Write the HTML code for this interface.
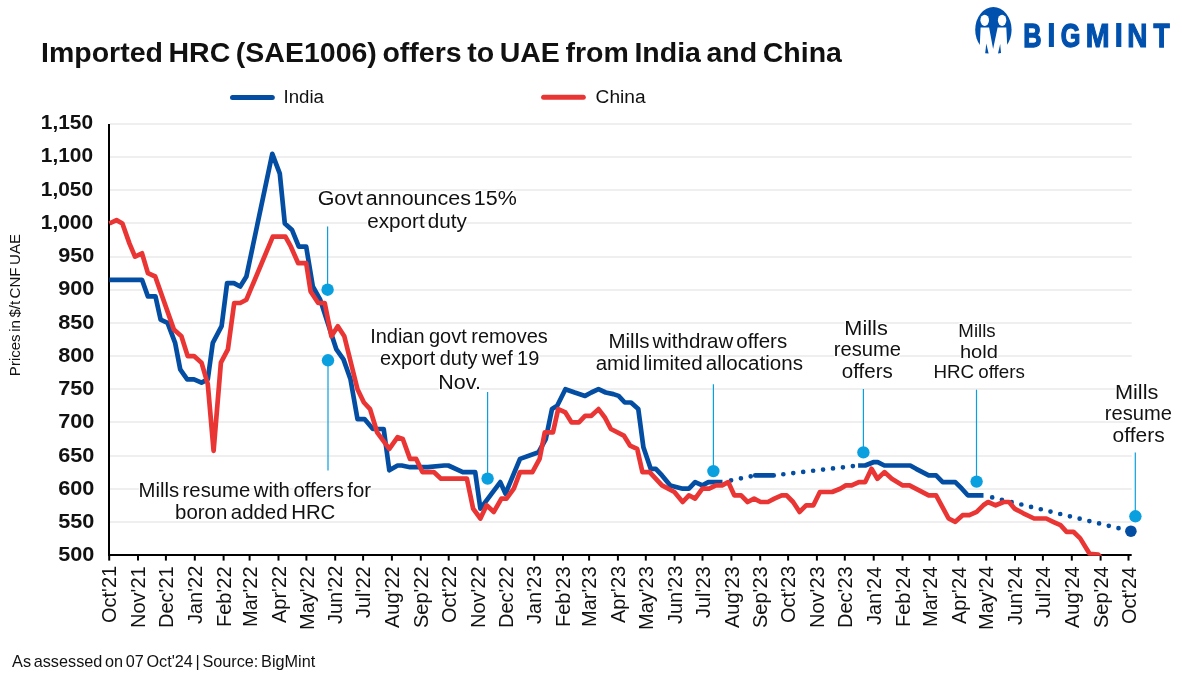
<!DOCTYPE html>
<html><head><meta charset="utf-8"><title>Imported HRC (SAE1006) offers to UAE from India and China</title>
<style>
html,body{margin:0;padding:0;background:#fff;}
svg{display:block;}
text{font-family:"Liberation Sans",Arial,sans-serif;}
</style></head><body>
<svg width="1182" height="677" viewBox="0 0 1182 677">
<defs><clipPath id="plotclip"><rect x="0" y="0" width="1182" height="555.8"/></clipPath></defs>
<rect width="1182" height="677" fill="#fff"/>
<line x1="110" x2="1131.7" y1="522" y2="522" stroke="#efefef" stroke-width="2"/>
<line x1="110" x2="1131.7" y1="489" y2="489" stroke="#efefef" stroke-width="2"/>
<line x1="110" x2="1131.7" y1="456" y2="456" stroke="#efefef" stroke-width="2"/>
<line x1="110" x2="1131.7" y1="422" y2="422" stroke="#efefef" stroke-width="2"/>
<line x1="110" x2="1131.7" y1="389" y2="389" stroke="#efefef" stroke-width="2"/>
<line x1="110" x2="1131.7" y1="356" y2="356" stroke="#efefef" stroke-width="2"/>
<line x1="110" x2="1131.7" y1="323" y2="323" stroke="#efefef" stroke-width="2"/>
<line x1="110" x2="1131.7" y1="290" y2="290" stroke="#efefef" stroke-width="2"/>
<line x1="110" x2="1131.7" y1="257" y2="257" stroke="#efefef" stroke-width="2"/>
<line x1="110" x2="1131.7" y1="223" y2="223" stroke="#efefef" stroke-width="2"/>
<line x1="110" x2="1131.7" y1="190" y2="190" stroke="#efefef" stroke-width="2"/>
<line x1="110" x2="1131.7" y1="157" y2="157" stroke="#efefef" stroke-width="2"/>
<line x1="110" x2="1131.7" y1="124" y2="124" stroke="#efefef" stroke-width="2"/>
<text transform="translate(58.18,561.30) scale(1.085,1)" font-size="20" font-weight="bold" fill="#111111">500</text>
<text transform="translate(58.18,528.05) scale(1.085,1)" font-size="20" font-weight="bold" fill="#111111">550</text>
<text transform="translate(58.18,494.80) scale(1.085,1)" font-size="20" font-weight="bold" fill="#111111">600</text>
<text transform="translate(58.18,461.55) scale(1.085,1)" font-size="20" font-weight="bold" fill="#111111">650</text>
<text transform="translate(58.18,428.30) scale(1.085,1)" font-size="20" font-weight="bold" fill="#111111">700</text>
<text transform="translate(58.18,395.05) scale(1.085,1)" font-size="20" font-weight="bold" fill="#111111">750</text>
<text transform="translate(58.18,361.80) scale(1.085,1)" font-size="20" font-weight="bold" fill="#111111">800</text>
<text transform="translate(58.18,328.55) scale(1.085,1)" font-size="20" font-weight="bold" fill="#111111">850</text>
<text transform="translate(58.18,295.30) scale(1.085,1)" font-size="20" font-weight="bold" fill="#111111">900</text>
<text transform="translate(58.18,262.05) scale(1.085,1)" font-size="20" font-weight="bold" fill="#111111">950</text>
<text transform="translate(40.84,228.80) scale(1.044,1)" font-size="20" font-weight="bold" fill="#111111">1,000</text>
<text transform="translate(40.84,195.55) scale(1.044,1)" font-size="20" font-weight="bold" fill="#111111">1,050</text>
<text transform="translate(40.84,162.30) scale(1.044,1)" font-size="20" font-weight="bold" fill="#111111">1,100</text>
<text transform="translate(40.84,129.05) scale(1.044,1)" font-size="20" font-weight="bold" fill="#111111">1,150</text>
<line x1="109" x2="109" y1="124" y2="555.7" stroke="#000" stroke-width="2"/>
<line x1="108" x2="1131.7" y1="554.9" y2="554.9" stroke="#000" stroke-width="2"/>
<line x1="109.2" x2="109.2" y1="554" y2="560.6" stroke="#000" stroke-width="2"/>
<text transform="translate(116.4,623.00) rotate(-90)" font-size="20" fill="#111111">Oct'21</text>
<line x1="138.0" x2="138.0" y1="554" y2="560.6" stroke="#000" stroke-width="2"/>
<text transform="translate(145.2,628.00) rotate(-90)" font-size="20" fill="#111111">Nov'21</text>
<line x1="165.9" x2="165.9" y1="554" y2="560.6" stroke="#000" stroke-width="2"/>
<text transform="translate(173.1,628.00) rotate(-90)" font-size="20" fill="#111111">Dec'21</text>
<line x1="194.8" x2="194.8" y1="554" y2="560.6" stroke="#000" stroke-width="2"/>
<text transform="translate(202.0,624.00) rotate(-90)" font-size="20" fill="#111111">Jan'22</text>
<line x1="223.6" x2="223.6" y1="554" y2="560.6" stroke="#000" stroke-width="2"/>
<text transform="translate(230.8,627.00) rotate(-90)" font-size="20" fill="#111111">Feb'22</text>
<line x1="249.6" x2="249.6" y1="554" y2="560.6" stroke="#000" stroke-width="2"/>
<text transform="translate(256.8,627.00) rotate(-90)" font-size="20" fill="#111111">Mar'22</text>
<line x1="278.5" x2="278.5" y1="554" y2="560.6" stroke="#000" stroke-width="2"/>
<text transform="translate(285.7,623.00) rotate(-90)" font-size="20" fill="#111111">Apr'22</text>
<line x1="306.4" x2="306.4" y1="554" y2="560.6" stroke="#000" stroke-width="2"/>
<text transform="translate(313.6,630.00) rotate(-90)" font-size="20" fill="#111111">May'22</text>
<line x1="335.2" x2="335.2" y1="554" y2="560.6" stroke="#000" stroke-width="2"/>
<text transform="translate(342.4,624.00) rotate(-90)" font-size="20" fill="#111111">Jun'22</text>
<line x1="363.1" x2="363.1" y1="554" y2="560.6" stroke="#000" stroke-width="2"/>
<text transform="translate(370.3,618.00) rotate(-90)" font-size="20" fill="#111111">Jul'22</text>
<line x1="391.9" x2="391.9" y1="554" y2="560.6" stroke="#000" stroke-width="2"/>
<text transform="translate(399.1,628.00) rotate(-90)" font-size="20" fill="#111111">Aug'22</text>
<line x1="420.8" x2="420.8" y1="554" y2="560.6" stroke="#000" stroke-width="2"/>
<text transform="translate(427.9,628.00) rotate(-90)" font-size="20" fill="#111111">Sep'22</text>
<line x1="448.7" x2="448.7" y1="554" y2="560.6" stroke="#000" stroke-width="2"/>
<text transform="translate(455.9,623.00) rotate(-90)" font-size="20" fill="#111111">Oct'22</text>
<line x1="477.5" x2="477.5" y1="554" y2="560.6" stroke="#000" stroke-width="2"/>
<text transform="translate(484.7,628.00) rotate(-90)" font-size="20" fill="#111111">Nov'22</text>
<line x1="505.4" x2="505.4" y1="554" y2="560.6" stroke="#000" stroke-width="2"/>
<text transform="translate(512.6,628.00) rotate(-90)" font-size="20" fill="#111111">Dec'22</text>
<line x1="534.2" x2="534.2" y1="554" y2="560.6" stroke="#000" stroke-width="2"/>
<text transform="translate(541.4,624.00) rotate(-90)" font-size="20" fill="#111111">Jan'23</text>
<line x1="563.0" x2="563.0" y1="554" y2="560.6" stroke="#000" stroke-width="2"/>
<text transform="translate(570.2,627.00) rotate(-90)" font-size="20" fill="#111111">Feb'23</text>
<line x1="589.1" x2="589.1" y1="554" y2="560.6" stroke="#000" stroke-width="2"/>
<text transform="translate(596.3,627.00) rotate(-90)" font-size="20" fill="#111111">Mar'23</text>
<line x1="617.9" x2="617.9" y1="554" y2="560.6" stroke="#000" stroke-width="2"/>
<text transform="translate(625.1,623.00) rotate(-90)" font-size="20" fill="#111111">Apr'23</text>
<line x1="645.8" x2="645.8" y1="554" y2="560.6" stroke="#000" stroke-width="2"/>
<text transform="translate(653.0,630.00) rotate(-90)" font-size="20" fill="#111111">May'23</text>
<line x1="674.6" x2="674.6" y1="554" y2="560.6" stroke="#000" stroke-width="2"/>
<text transform="translate(681.8,624.00) rotate(-90)" font-size="20" fill="#111111">Jun'23</text>
<line x1="702.5" x2="702.5" y1="554" y2="560.6" stroke="#000" stroke-width="2"/>
<text transform="translate(709.7,618.00) rotate(-90)" font-size="20" fill="#111111">Jul'23</text>
<line x1="731.4" x2="731.4" y1="554" y2="560.6" stroke="#000" stroke-width="2"/>
<text transform="translate(738.6,628.00) rotate(-90)" font-size="20" fill="#111111">Aug'23</text>
<line x1="760.2" x2="760.2" y1="554" y2="560.6" stroke="#000" stroke-width="2"/>
<text transform="translate(767.4,628.00) rotate(-90)" font-size="20" fill="#111111">Sep'23</text>
<line x1="788.1" x2="788.1" y1="554" y2="560.6" stroke="#000" stroke-width="2"/>
<text transform="translate(795.3,623.00) rotate(-90)" font-size="20" fill="#111111">Oct'23</text>
<line x1="816.9" x2="816.9" y1="554" y2="560.6" stroke="#000" stroke-width="2"/>
<text transform="translate(824.1,628.00) rotate(-90)" font-size="20" fill="#111111">Nov'23</text>
<line x1="844.8" x2="844.8" y1="554" y2="560.6" stroke="#000" stroke-width="2"/>
<text transform="translate(852.0,628.00) rotate(-90)" font-size="20" fill="#111111">Dec'23</text>
<line x1="873.7" x2="873.7" y1="554" y2="560.6" stroke="#000" stroke-width="2"/>
<text transform="translate(880.9,625.00) rotate(-90)" font-size="20" fill="#111111">Jan'24</text>
<line x1="902.5" x2="902.5" y1="554" y2="560.6" stroke="#000" stroke-width="2"/>
<text transform="translate(909.7,627.00) rotate(-90)" font-size="20" fill="#111111">Feb'24</text>
<line x1="929.5" x2="929.5" y1="554" y2="560.6" stroke="#000" stroke-width="2"/>
<text transform="translate(936.7,627.00) rotate(-90)" font-size="20" fill="#111111">Mar'24</text>
<line x1="958.3" x2="958.3" y1="554" y2="560.6" stroke="#000" stroke-width="2"/>
<text transform="translate(965.5,624.00) rotate(-90)" font-size="20" fill="#111111">Apr'24</text>
<line x1="986.2" x2="986.2" y1="554" y2="560.6" stroke="#000" stroke-width="2"/>
<text transform="translate(993.4,630.00) rotate(-90)" font-size="20" fill="#111111">May'24</text>
<line x1="1015.0" x2="1015.0" y1="554" y2="560.6" stroke="#000" stroke-width="2"/>
<text transform="translate(1022.2,625.00) rotate(-90)" font-size="20" fill="#111111">Jun'24</text>
<line x1="1042.9" x2="1042.9" y1="554" y2="560.6" stroke="#000" stroke-width="2"/>
<text transform="translate(1050.1,618.00) rotate(-90)" font-size="20" fill="#111111">Jul'24</text>
<line x1="1071.8" x2="1071.8" y1="554" y2="560.6" stroke="#000" stroke-width="2"/>
<text transform="translate(1079.0,628.00) rotate(-90)" font-size="20" fill="#111111">Aug'24</text>
<line x1="1100.6" x2="1100.6" y1="554" y2="560.6" stroke="#000" stroke-width="2"/>
<text transform="translate(1107.8,628.00) rotate(-90)" font-size="20" fill="#111111">Sep'24</text>
<line x1="1128.5" x2="1128.5" y1="554" y2="560.6" stroke="#000" stroke-width="2"/>
<text transform="translate(1135.7,624.00) rotate(-90)" font-size="20" fill="#111111">Oct'24</text>
<line x1="327.6" x2="327.6" y1="226.6" y2="289.7" stroke="#0aa0e0" stroke-width="1.2"/>
<line x1="328.0" x2="328.0" y1="360.3" y2="470.6" stroke="#0aa0e0" stroke-width="1.2"/>
<line x1="487.6" x2="487.6" y1="392" y2="478.6" stroke="#0aa0e0" stroke-width="1.2"/>
<line x1="713.4" x2="713.4" y1="384.2" y2="471.1" stroke="#0aa0e0" stroke-width="1.2"/>
<line x1="863.4" x2="863.4" y1="389" y2="452.4" stroke="#0aa0e0" stroke-width="1.2"/>
<line x1="976.5" x2="976.5" y1="389.7" y2="481.6" stroke="#0aa0e0" stroke-width="1.2"/>
<line x1="1135.3" x2="1135.3" y1="452.4" y2="516.3" stroke="#0aa0e0" stroke-width="1.2"/>
<polyline points="109.4,279.8 142.0,279.8 147.9,296.4 155.5,296.4 160.6,319.6 167.6,322.9 175.1,342.8 180.2,369.3 187.2,379.3 194.0,379.3 201.5,382.6 207.8,379.3 212.8,342.8 221.6,326.2 227.1,283.1 233.9,283.1 240.2,286.5 246.4,276.5 272.3,153.8 279.8,173.7 284.8,223.5 292.1,230.1 298.8,246.7 306.2,246.7 312.8,286.5 320.2,299.7 336.4,349.4 343.5,359.4 350.5,379.3 357.5,419.1 364.5,419.1 372.9,429.0 383.7,429.0 389.3,470.3 397.6,465.5 401.7,465.5 410.0,467.2 427.6,467.2 444.1,465.5 448.3,465.5 462.8,472.1 475.2,472.1 480.4,508.6 500.3,482.1 505.5,493.7 520.0,458.9 538.6,452.2 545.8,439.0 552.0,409.1 557.2,405.8 565.4,389.2 574.7,392.5 585.1,395.9 591.3,392.5 598.5,389.2 605.7,392.5 613.4,394.1 618.6,395.9 624.8,402.5 631.0,402.5 638.3,409.1 643.4,447.2 650.7,468.8 655.8,468.8 662.0,475.4 670.3,485.4 682.7,488.7 688.9,488.7 695.1,482.1 702.4,485.4 708.4,482.1 722.5,482.1" fill="none" stroke="#034ea2" stroke-width="4.7" stroke-linejoin="round"/>
<polyline points="755.2,475.4 773.7,475.4" fill="none" stroke="#034ea2" stroke-width="4.7" stroke-linecap="round"/>
<polyline points="858.1,465.5 865.2,465.5 873.3,462.2 877.7,462.2 884.4,465.5 895.4,465.5 902.8,465.5 910.2,465.5 916.1,468.8 928.7,475.4 936.1,475.4 942.7,482.1 955.3,482.1 961.9,488.7 967.8,495.3 983.5,495.3" fill="none" stroke="#034ea2" stroke-width="4.7" stroke-linejoin="round"/>
<polyline points="722.5,482.1 755.2,475.4" fill="none" stroke="#034ea2" stroke-width="4.7" stroke-linecap="round" stroke-dasharray="0 10" stroke-dashoffset="1.2"/>
<polyline points="773.7,475.4 858.1,465.5" fill="none" stroke="#034ea2" stroke-width="4.7" stroke-linecap="round" stroke-dasharray="0 10" stroke-dashoffset="0.3"/>
<polyline points="983.5,495.3 1130.9,531.2" fill="none" stroke="#034ea2" stroke-width="4.7" stroke-linecap="round" stroke-dasharray="0 10" stroke-dashoffset="1.05"/>
<circle cx="1130.9" cy="531.2" r="5.8" fill="#034ea2"/>
<polyline points="109.4,223.5 116.5,220.1 122.4,223.5 129.4,243.4 135.0,256.6 142.0,253.3 147.9,273.2 155.2,276.5 163.4,299.7 173.9,329.6 181.4,336.2 187.7,356.1 194.0,356.1 201.5,362.7 207.8,384.2 213.6,450.8 220.9,362.7 227.9,349.4 234.2,303.0 240.2,303.0 246.4,299.7 272.8,236.7 285.4,236.7 290.9,246.7 298.2,263.2 306.2,263.2 310.6,291.5 318.2,303.0 324.7,303.0 331.4,336.2 337.8,326.2 344.3,336.2 357.5,389.2 363.9,402.5 370.1,409.1 377.1,432.3 389.3,448.9 397.6,437.2 402.8,439.0 410.0,458.9 416.2,458.9 422.4,472.1 433.8,472.1 441.0,478.7 466.9,478.7 473.1,508.6 480.4,518.5 486.6,505.3 493.8,511.9 501.4,498.6 506.5,498.6 513.8,488.7 520.0,472.1 532.4,472.1 539.6,458.9 544.8,432.3 553.0,432.3 558.2,409.1 565.4,412.4 571.6,422.4 578.9,422.4 585.1,415.8 591.3,415.8 598.5,409.1 604.7,417.2 610.9,429.0 623.8,435.6 630.0,445.6 637.2,448.9 642.4,472.1 649.6,472.1 662.0,485.4 674.4,492.0 682.7,502.0 688.9,495.3 695.1,498.6 702.4,488.7 709.1,488.7 716.0,485.4 722.1,485.4 728.2,482.1 734.3,495.3 741.1,495.3 747.6,502.0 754.1,498.6 760.6,502.0 767.9,502.0 774.4,498.6 781.7,495.3 786.6,495.3 793.1,502.0 799.6,511.9 806.1,505.3 813.4,505.3 819.9,492.0 832.1,492.0 840.2,488.7 845.9,485.4 851.6,485.4 858.9,482.1 865.2,482.1 871.5,468.8 877.4,478.7 884.4,472.1 891.8,478.7 902.8,485.4 909.5,485.4 928.7,495.3 936.1,495.3 948.6,518.5 955.3,521.8 962.6,515.2 969.3,515.2 976.7,511.9 983.3,505.3 988.1,502.0 995.6,505.3 1003.7,502.0 1009.1,502.0 1014.5,508.6 1023.3,513.3 1034.1,518.5 1046.3,518.5 1053.1,521.8 1060.5,525.2 1066.6,531.8 1073.4,531.8 1080.2,538.4 1089.6,553.8 1098.2,554.6 1104.7,562.0" fill="none" stroke="#e93634" stroke-width="4.7" stroke-linejoin="round" clip-path="url(#plotclip)"/>
<circle cx="327.6" cy="289.7" r="6.2" fill="#0aa0e0"/>
<circle cx="328.0" cy="360.3" r="6.2" fill="#0aa0e0"/>
<circle cx="487.6" cy="478.6" r="6.2" fill="#0aa0e0"/>
<circle cx="713.4" cy="471.1" r="6.2" fill="#0aa0e0"/>
<circle cx="863.4" cy="452.4" r="6.2" fill="#0aa0e0"/>
<circle cx="976.6" cy="481.6" r="6.2" fill="#0aa0e0"/>
<circle cx="1135.4" cy="516.3" r="6.2" fill="#0aa0e0"/>
<text transform="translate(317.67,204.8) scale(1.0330,1)" font-size="20.8" font-weight="normal" word-spacing="-3.0" fill="#111111" stroke="#fff" stroke-width="2.5" stroke-linejoin="round" paint-order="stroke">Govt announces 15%</text>
<text transform="translate(367.21,227.9) scale(0.9939,1)" font-size="20.8" font-weight="normal" word-spacing="-2.5" fill="#111111" stroke="#fff" stroke-width="2.5" stroke-linejoin="round" paint-order="stroke">export duty</text>
<text transform="translate(370.16,342.8) scale(1.0186,1)" font-size="19.6" font-weight="normal" word-spacing="-1.0" fill="#111111" stroke="#fff" stroke-width="2.5" stroke-linejoin="round" paint-order="stroke">Indian govt removes</text>
<text transform="translate(379.98,364.5) scale(1.0175,1)" font-size="19.6" font-weight="normal" word-spacing="-1.2" fill="#111111" stroke="#fff" stroke-width="2.5" stroke-linejoin="round" paint-order="stroke">export duty wef 19</text>
<text transform="translate(438.31,388.5) scale(1.0971,1)" font-size="19.6" font-weight="normal" word-spacing="0" fill="#111111" stroke="#fff" stroke-width="2.5" stroke-linejoin="round" paint-order="stroke">Nov.</text>
<text transform="translate(608.51,347.8) scale(1.0446,1)" font-size="19.6" font-weight="normal" word-spacing="-2.5" fill="#111111" stroke="#fff" stroke-width="2.5" stroke-linejoin="round" paint-order="stroke">Mills withdraw offers</text>
<text transform="translate(595.65,370.0) scale(1.0495,1)" font-size="19.6" font-weight="normal" word-spacing="-2.5" fill="#111111" stroke="#fff" stroke-width="2.5" stroke-linejoin="round" paint-order="stroke">amid limited allocations</text>
<text transform="translate(844.37,334.9) scale(1.1139,1)" font-size="19.5" font-weight="normal" word-spacing="0" fill="#111111" stroke="#fff" stroke-width="2.5" stroke-linejoin="round" paint-order="stroke">Mills</text>
<text transform="translate(833.87,356.4) scale(1.0333,1)" font-size="19.5" font-weight="normal" word-spacing="0" fill="#111111" stroke="#fff" stroke-width="2.5" stroke-linejoin="round" paint-order="stroke">resume</text>
<text transform="translate(841.74,377.5) scale(1.0553,1)" font-size="19.5" font-weight="normal" word-spacing="0" fill="#111111" stroke="#fff" stroke-width="2.5" stroke-linejoin="round" paint-order="stroke">offers</text>
<text transform="translate(958.37,336.9) scale(1.0257,1)" font-size="18.2" font-weight="normal" word-spacing="0" fill="#111111" stroke="#fff" stroke-width="2.5" stroke-linejoin="round" paint-order="stroke">Mills</text>
<text transform="translate(959.90,357.6) scale(1.1031,1)" font-size="18.2" font-weight="normal" word-spacing="0" fill="#111111" stroke="#fff" stroke-width="2.5" stroke-linejoin="round" paint-order="stroke">hold</text>
<text transform="translate(933.47,377.8) scale(1.0310,1)" font-size="18.2" font-weight="normal" word-spacing="-1.0" fill="#111111" stroke="#fff" stroke-width="2.5" stroke-linejoin="round" paint-order="stroke">HRC offers</text>
<text transform="translate(1114.96,398.8) scale(1.1194,1)" font-size="19.4" font-weight="normal" word-spacing="0" fill="#111111" stroke="#fff" stroke-width="2.5" stroke-linejoin="round" paint-order="stroke">Mills</text>
<text transform="translate(1104.76,420.2) scale(1.0381,1)" font-size="19.4" font-weight="normal" word-spacing="0" fill="#111111" stroke="#fff" stroke-width="2.5" stroke-linejoin="round" paint-order="stroke">resume</text>
<text transform="translate(1112.62,441.6) scale(1.0804,1)" font-size="19.4" font-weight="normal" word-spacing="0" fill="#111111" stroke="#fff" stroke-width="2.5" stroke-linejoin="round" paint-order="stroke">offers</text>
<text transform="translate(138.51,496.7) scale(1.0459,1)" font-size="19.4" font-weight="normal" word-spacing="-2.0" fill="#111111" stroke="#fff" stroke-width="2.5" stroke-linejoin="round" paint-order="stroke">Mills resume with offers for</text>
<text transform="translate(175.05,518.8) scale(1.0527,1)" font-size="19.4" font-weight="normal" word-spacing="-2.0" fill="#111111" stroke="#fff" stroke-width="2.5" stroke-linejoin="round" paint-order="stroke">boron added HRC</text>
<text transform="translate(40.96,62.1) scale(1.0185,1)" font-size="28.0" font-weight="bold" word-spacing="-2.3" fill="#111111">Imported HRC (SAE1006) offers to UAE from India and China</text>
<text transform="translate(283.54,102.8) scale(0.9821,1)" font-size="19.0" font-weight="normal" word-spacing="0" fill="#111111">India</text>
<text transform="translate(595.59,102.7) scale(1.0083,1)" font-size="19.0" font-weight="normal" word-spacing="0" fill="#111111">China</text>
<text transform="translate(12.10,667.3) scale(1.0288,1)" font-size="15.8" font-weight="normal" word-spacing="-1.8" fill="#111111">As assessed on 07 Oct'24 | Source: BigMint</text>
<text transform="translate(20.0,376.14) rotate(-90) scale(1.0378,1)" font-size="14.5" word-spacing="-1.6" fill="#111111">Prices in $/t CNF UAE</text>
<line x1="232.5" x2="272.3" y1="97.5" y2="97.5" stroke="#034ea2" stroke-width="5" stroke-linecap="round"/>
<line x1="543.6" x2="583.3" y1="97.3" y2="97.3" stroke="#e93634" stroke-width="5" stroke-linecap="round"/>
<g>
<ellipse cx="993.4" cy="29.8" rx="18.2" ry="22.8" fill="#0050ad"/>
<polygon points="980.6,27.5 989.1,27.5 993.1,49 997.6,27.5 1006.3,27.5 1007.2,45.5 1012,45.5 1012,58 975,58 975,45.5 979.8,45.5" fill="#fff"/>
<ellipse cx="984.7" cy="20.3" rx="4.3" ry="5.6" fill="#fff"/>
<ellipse cx="1002.1" cy="20.3" rx="4.2" ry="5.6" fill="#fff"/>
<polygon points="986.3,43.5 985.2,53.2 988.6,53.6" fill="#0050ad"/>
<polygon points="1000.2,43.9 998,53.6 1001,53" fill="#0050ad"/>
</g>
<text transform="translate(1023.20,46.5) scale(0.7524,1)" font-size="33.7" font-weight="bold" fill="#0050ad" stroke="#0050ad" stroke-width="1.329" stroke-linejoin="miter">B</text>
<text transform="translate(1046.60,47.0) scale(1.0000,1)" font-size="35.2" font-weight="bold" fill="#0050ad">I</text>
<text transform="translate(1060.75,46.5) scale(0.7522,1)" font-size="33.7" font-weight="bold" fill="#0050ad" stroke="#0050ad" stroke-width="1.329" stroke-linejoin="miter">G</text>
<text transform="translate(1085.80,46.5) scale(0.8500,1)" font-size="33.7" font-weight="bold" fill="#0050ad" stroke="#0050ad" stroke-width="1.176" stroke-linejoin="miter">M</text>
<text transform="translate(1113.76,47.0) scale(1.0200,1)" font-size="35.2" font-weight="bold" fill="#0050ad">I</text>
<text transform="translate(1127.24,46.5) scale(0.8300,1)" font-size="33.7" font-weight="bold" fill="#0050ad" stroke="#0050ad" stroke-width="1.205" stroke-linejoin="miter">N</text>
<text transform="translate(1153.50,46.5) scale(0.7850,1)" font-size="33.7" font-weight="bold" fill="#0050ad" stroke="#0050ad" stroke-width="1.274" stroke-linejoin="miter">T</text>
</svg></body></html>
